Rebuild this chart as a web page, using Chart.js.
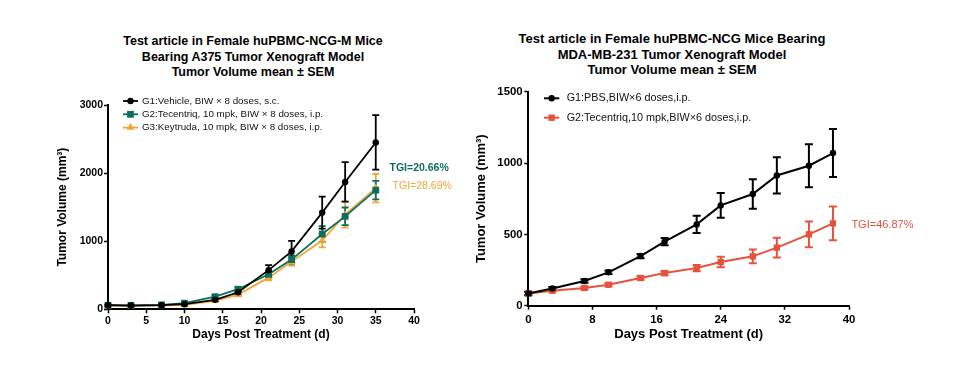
<!DOCTYPE html>
<html>
<head>
<meta charset="utf-8">
<script src="https://cdn.jsdelivr.net/npm/chart.js@4.4.0/dist/chart.umd.min.js"></script>
<style>
    body { margin: 0; background: #fff; }
    #wrap { position: relative; width: 962px; height: 384px; overflow: hidden; }
    canvas { position: absolute; top: 0; }
    .title { position: absolute; text-align: center; font-family: "Liberation Sans", Arial, sans-serif; font-weight: bold; color: #000; white-space: nowrap; }
</style>
</head>
<body>
<div id="wrap">
    <div class="title" style="left:103px; top:34px; width:300px; font-size:12.5px; line-height:15.5px;">
        Test article in Female huPBMC-NCG-M Mice<br>Bearing A375 Tumor Xenograft Model<br>Tumor Volume mean ± SEM
    </div>
    <div class="title" style="left:502px; top:31px; width:340px; font-size:13px; line-height:15.5px;">
        Test article in Female huPBMC-NCG Mice Bearing<br>MDA-MB-231 Tumor Xenograft Model<br>Tumor Volume mean ± SEM
    </div>
    <canvas id="chart-a" width="462" height="384" style="left:0"></canvas>
    <canvas id="chart-b" width="500" height="384" style="left:462px"></canvas>
</div>
<script>
// A375 study (left)
const daysA = [0, 3, 7, 10, 14, 17, 21, 24, 28, 31, 35];
const vehicleA = [60, 55, 62, 75, 140, 250, 575, 850, 1420, 1870, 2450];
const vehicleSemA = [10, 8, 10, 12, 20, 30, 75, 155, 235, 290, 400];
const tecentriqA = [60, 58, 65, 90, 185, 295, 515, 730, 1105, 1365, 1750];
const tecentriqSemA = [8, 8, 10, 12, 20, 30, 45, 60, 115, 130, 135];
const keytrudaA = [50, 50, 55, 65, 125, 215, 465, 700, 1010, 1390, 1780];
const keytrudaSemA = [8, 8, 8, 10, 18, 25, 40, 60, 100, 190, 210];
const labelsA = [
    "G1:Vehicle, BIW × 8 doses, s.c.",
    "G2:Tecentriq, 10 mpk, BIW × 8 doses, i.p.",
    "G3:Keytruda, 10 mpk, BIW × 8 doses, i.p."
];
const tgiA = ["TGI=20.66%", "TGI=28.69%"];
const yTicksA = [0, 1000, 2000, 3000];

// MDA-MB-231 study (right)
const daysB = [0, 3, 7, 10, 14, 17, 21, 24, 28, 31, 35, 38];
const pbsB = [86, 121, 173, 234, 348, 449, 570, 703, 783, 913, 981, 1070];
const pbsSemB = [12, 10, 12, 12, 15, 25, 60, 87, 103, 127, 150, 168];
const tecentriqB = [86, 105, 124, 147, 194, 229, 264, 306, 346, 407, 500, 577];
const tecentriqSemB = [12, 8, 10, 10, 12, 15, 22, 37, 48, 70, 91, 119];
const labelsB = [
    "G1:PBS,BIW×6 doses,i.p.",
    "G2:Tecentriq,10 mpk,BIW×6 doses,i.p."
];
const tgiB = ["TGI=46.87%"];
const yTicksB = [0, 500, 1000, 1500];

const FONT = '"Liberation Sans", Arial, sans-serif';
const BLACK = "#000000";
const TEAL = "#0d6e5e";
const ORANGE = "#f2a634";
const RED = "#e5533c";

function toPoints(xs, ys) {
    return xs.map((x, i) => ({ x: x, y: ys[i] }));
}

const errorBarPlugin = {
    id: "errorBars",
    beforeDatasetsDraw(chart, args, opts) {
        const ctx = chart.ctx;
        const xScale = chart.scales.x;
        const yScale = chart.scales.y;
        // draw last dataset first so the first one ends on top
        for (let i = chart.data.datasets.length - 1; i >= 0; i--) {
            const ds = chart.data.datasets[i];
            const sem = opts.sem[i];
            ctx.save();
            ctx.strokeStyle = ds.borderColor;
            ctx.lineWidth = opts.lineWidth;
            ds.data.forEach((pt, j) => {
                const x = xScale.getPixelForValue(pt.x);
                const top = yScale.getPixelForValue(pt.y + sem[j]);
                const bottom = yScale.getPixelForValue(pt.y - sem[j]);
                ctx.beginPath();
                ctx.moveTo(x, top);
                ctx.lineTo(x, bottom);
                ctx.moveTo(x - opts.cap, top);
                ctx.lineTo(x + opts.cap, top);
                ctx.moveTo(x - opts.cap, bottom);
                ctx.lineTo(x + opts.cap, bottom);
                ctx.stroke();
            });
            ctx.restore();
        }
    }
};

const sampleLegendPlugin = {
    id: "sampleLegend",
    afterDraw(chart, args, opts) {
        const { ctx, chartArea } = chart;
        ctx.save();
        ctx.font = opts.font;
        ctx.textBaseline = "middle";
        chart.data.datasets.forEach((ds, i) => {
            const y = chartArea.top + opts.rows[i];
            const x1 = chartArea.left + opts.lineStart;
            const x2 = chartArea.left + opts.lineEnd;
            ctx.strokeStyle = ds.borderColor;
            ctx.lineWidth = ds.borderWidth;
            ctx.beginPath();
            ctx.moveTo(x1, y);
            ctx.lineTo(x2, y);
            ctx.stroke();
            ctx.fillStyle = ds.pointBackgroundColor;
            Chart.helpers.drawPoint(ctx, {
                pointStyle: ds.pointStyle,
                radius: ds.pointRadius,
                rotation: 0,
                borderWidth: 0
            }, (x1 + x2) / 2, y);
            ctx.fillStyle = "#111";
            ctx.fillText(ds.label, chartArea.left + opts.textStart, y);
        });
        ctx.restore();
    }
};

const tgiPlugin = {
    id: "tgiLabels",
    afterDraw(chart, args, opts) {
        const ctx = chart.ctx;
        ctx.save();
        ctx.textBaseline = "middle";
        opts.items.forEach(item => {
            ctx.font = item.font;
            ctx.fillStyle = item.color;
            ctx.fillText(item.text, chart.scales.x.getPixelForValue(item.x), chart.scales.y.getPixelForValue(item.y));
        });
        ctx.restore();
    }
};

function buildScales(cfg) {
    return {
        x: {
            type: "linear",
            min: 0,
            max: 40,
            ticks: {
                stepSize: cfg.xStep,
                autoSkip: false,
                maxRotation: 0,
                color: BLACK,
                padding: cfg.xTickPad,
                font: { family: FONT, size: cfg.tickSize, weight: "bold" },
                callback: value => String(value)
            },
            grid: { drawOnChartArea: false, drawTicks: true, tickLength: 4, tickWidth: 1.5, tickColor: BLACK },
            border: { color: BLACK, width: 2 },
            title: {
                display: true,
                text: "Days Post Treatment (d)",
                color: BLACK,
                font: { family: FONT, size: cfg.axisTitleSize, weight: "bold", lineHeight: 1.2 },
                padding: { top: 0, bottom: cfg.xTitleBottom }
            },
            afterFit(scale) { scale.height = cfg.xHeight; }
        },
        y: {
            type: "linear",
            min: 0,
            max: cfg.yTicks[cfg.yTicks.length - 1],
            afterBuildTicks(scale) { scale.ticks = cfg.yTicks.map(v => ({ value: v })); },
            ticks: {
                color: BLACK,
                padding: cfg.yTickPad,
                font: { family: FONT, size: cfg.tickSize, weight: "bold" },
                callback: value => String(value)
            },
            grid: { drawOnChartArea: false, drawTicks: true, tickLength: 4, tickWidth: 1.5, tickColor: BLACK },
            border: { color: BLACK, width: 2 },
            title: {
                display: true,
                text: "Tumor Volume (mm³)",
                color: BLACK,
                font: { family: FONT, size: cfg.axisTitleSize, weight: "bold", lineHeight: 1.2 },
                padding: { top: cfg.yTitleTop, bottom: 0 }
            },
            afterFit(scale) { scale.width = cfg.yWidth; }
        }
    };
}

function makeDataset(label, xs, ys, color, style, radius, width) {
    return {
        label: label,
        data: toPoints(xs, ys),
        borderColor: color,
        backgroundColor: color,
        pointBackgroundColor: color,
        pointBorderWidth: 0,
        pointStyle: style,
        pointRadius: radius,
        borderWidth: width,
        tension: 0,
        clip: false
    };
}

new Chart(document.querySelector("#chart-a"), {
    type: "line",
    data: {
        datasets: [
            makeDataset(labelsA[0], daysA, vehicleA, BLACK, "circle", 3.2, 1.8),
            makeDataset(labelsA[1], daysA, tecentriqA, TEAL, "rect", 4.8, 1.8),
            makeDataset(labelsA[2], daysA, keytrudaA, ORANGE, "triangle", 4.5, 1.8)
        ]
    },
    options: {
        responsive: false,
        animation: false,
        layout: { padding: { top: 105, right: 48, bottom: 0, left: 0 } },
        scales: buildScales({
            xStep: 5, yTicks: yTicksA, tickSize: 10.5, axisTitleSize: 12,
            xTickPad: 2, yTickPad: 1, xTitleBottom: 41.8, yTitleTop: 55.5,
            xHeight: 74.7, yWidth: 108
        }),
        plugins: {
            legend: { display: false },
            title: { display: false },
            tooltip: { enabled: false },
            errorBars: { sem: [vehicleSemA, tecentriqSemA, keytrudaSemA], cap: 3.5, lineWidth: 1.8 },
            sampleLegend: { rows: [-4, 9.3, 22.6], lineStart: 15, lineEnd: 30, textStart: 34, font: "9.8px " + FONT },
            tgiLabels: {
                items: [
                    { text: tgiA[0], x: 36.8, y: 2080, color: TEAL, font: "bold 10.5px " + FONT },
                    { text: tgiA[1], x: 37.2, y: 1810, color: ORANGE, font: "10.5px " + FONT }
                ]
            }
        }
    },
    plugins: [errorBarPlugin, sampleLegendPlugin, tgiPlugin]
});

new Chart(document.querySelector("#chart-b"), {
    type: "line",
    data: {
        datasets: [
            makeDataset(labelsB[0], daysB, pbsB, BLACK, "circle", 3.2, 2),
            makeDataset(labelsB[1], daysB, tecentriqB, RED, "rect", 4.5, 2)
        ]
    },
    options: {
        responsive: false,
        animation: false,
        layout: { padding: { top: 91.7, right: 113, bottom: 0, left: 0 } },
        scales: buildScales({
            xStep: 8, yTicks: yTicksB, tickSize: 11.4, axisTitleSize: 13,
            xTickPad: 3, yTickPad: 1.6, xTitleBottom: 41.9, yTitleTop: 11.7,
            xHeight: 78.3, yWidth: 66.3
        }),
        plugins: {
            legend: { display: false },
            title: { display: false },
            tooltip: { enabled: false },
            errorBars: { sem: [pbsSemB, tecentriqSemB], cap: 4, lineWidth: 2 },
            sampleLegend: { rows: [6.6, 26], lineStart: 15.7, lineEnd: 31, textStart: 38.4, font: "10.8px " + FONT },
            tgiLabels: {
                items: [
                    { text: tgiB[0], x: 40.3, y: 566, color: RED, font: "11px " + FONT }
                ]
            }
        }
    },
    plugins: [errorBarPlugin, sampleLegendPlugin, tgiPlugin]
});
</script>
</body>
</html>
